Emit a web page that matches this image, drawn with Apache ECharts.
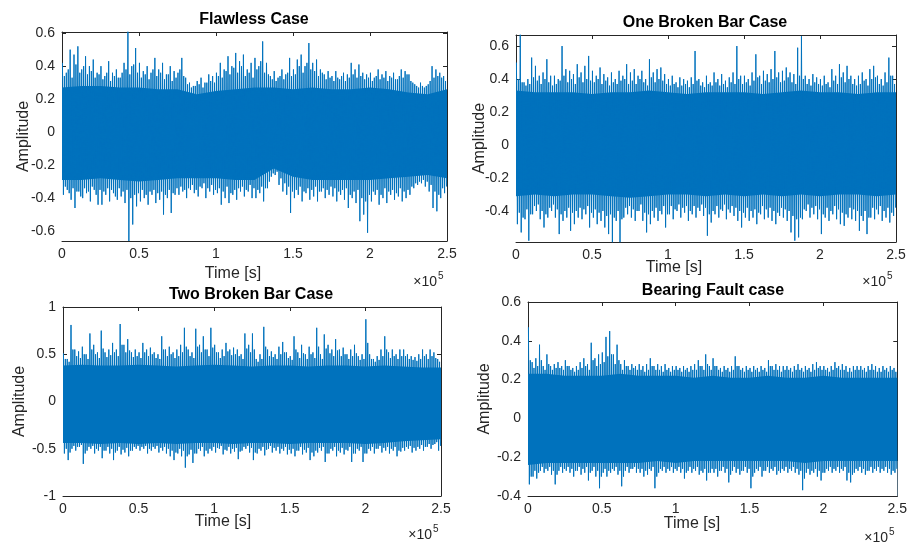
<!DOCTYPE html>
<html><head><meta charset="utf-8">
<script src="https://cdn.jsdelivr.net/npm/echarts@6/dist/echarts.min.js"></script>
<style>html,body{margin:0;padding:0;background:#fff}#c{width:910px;height:542px}</style>
</head><body><div id="c"></div>
<script>
// ---------------- DATA ----------------
const titles = ['Flawless Case', 'One Broken Bar Case', 'Two Broken Bar Case', 'Bearing Fault case'];
const xLabel = 'Time [s]';
const yLabel = 'Amplitude';
const xTicks = [0, 50000, 100000, 150000, 200000, 250000];
const yTicks1 = [-0.6, -0.4, -0.2, 0, 0.2, 0.4, 0.6];
const yTicks2 = [-0.4, -0.2, 0, 0.2, 0.4, 0.6];
const yTicks3 = [-1, -0.5, 0, 0.5, 1];
const yTicks4 = [-0.4, -0.2, 0, 0.2, 0.4, 0.6];
const binWidth = 2500;   // samples per envelope bin (100 bins over 2.5e5 samples)
const coreStep = 12500;  // samples between core-band points

// Flawless case: largest peaks per bin, secondary (fringe) peaks per bin, dense core band
const flawlessHi = [0.42,0.36,0.50,0.47,0.52,0.38,0.46,0.40,0.44,0.36,
  0.40,0.34,0.43,0.36,0.38,0.33,0.42,0.61,0.40,0.51,
  0.42,0.37,0.40,0.36,0.45,0.38,0.42,0.35,0.40,0.37,
  0.36,0.45,0.33,0.30,0.28,0.31,0.33,0.30,0.35,0.34,
  0.36,0.42,0.38,0.46,0.40,0.48,0.43,0.47,0.38,0.42,
  0.45,0.40,0.55,0.42,0.34,0.37,0.33,0.38,0.35,0.45,
  0.38,0.44,0.47,0.40,0.54,0.42,0.44,0.38,0.35,0.37,
  0.34,0.37,0.32,0.36,0.35,0.42,0.38,0.41,0.36,0.35,
  0.36,0.33,0.38,0.35,0.37,0.34,0.36,0.32,0.38,0.37,
  0.35,0.30,0.28,0.30,0.27,0.29,0.40,0.38,0.36,0.34];
const flawlessLo = [-0.38,-0.35,-0.41,-0.46,-0.36,-0.40,-0.37,-0.42,-0.35,-0.44,
  -0.44,-0.38,-0.42,-0.37,-0.41,-0.39,-0.43,-0.66,-0.56,-0.45,
  -0.42,-0.40,-0.44,-0.38,-0.43,-0.41,-0.50,-0.40,-0.49,-0.38,
  -0.38,-0.36,-0.40,-0.35,-0.37,-0.39,-0.34,-0.40,-0.36,-0.38,
  -0.37,-0.44,-0.40,-0.43,-0.38,-0.41,-0.36,-0.39,-0.36,-0.40,
  -0.40,-0.37,-0.42,-0.34,-0.27,-0.26,-0.32,-0.36,-0.38,-0.49,
  -0.40,-0.38,-0.42,-0.37,-0.41,-0.39,-0.42,-0.36,-0.40,-0.38,
  -0.39,-0.42,-0.38,-0.41,-0.46,-0.40,-0.43,-0.54,-0.50,-0.61,
  -0.42,-0.38,-0.44,-0.40,-0.43,-0.38,-0.41,-0.39,-0.42,-0.40,
  -0.38,-0.34,-0.32,-0.31,-0.33,-0.36,-0.46,-0.48,-0.40,-0.37];
const flawlessMidHi = [0.34,0.38,0.33,0.41,0.36,0.40,0.35,0.37,0.33,0.35,
  0.32,0.36,0.31,0.34,0.33,0.36,0.38,0.35,0.41,0.36,
  0.33,0.35,0.32,0.38,0.34,0.36,0.32,0.35,0.31,0.33,
  0.38,0.34,0.29,0.27,0.28,0.29,0.27,0.30,0.31,0.30,
  0.34,0.33,0.37,0.35,0.39,0.36,0.40,0.34,0.36,0.33,
  0.38,0.43,0.36,0.35,0.32,0.31,0.34,0.32,0.36,0.34,
  0.35,0.40,0.36,0.42,0.38,0.37,0.34,0.36,0.32,0.33,
  0.31,0.33,0.34,0.31,0.33,0.35,0.33,0.34,0.32,0.33,
  0.31,0.34,0.32,0.33,0.31,0.33,0.32,0.34,0.33,0.35,
  0.31,0.29,0.27,0.28,0.28,0.31,0.33,0.34,0.33,0.31];
const flawlessMidLo = [-0.33,-0.37,-0.34,-0.36,-0.39,-0.34,-0.36,-0.33,-0.38,-0.35,
  -0.36,-0.34,-0.35,-0.39,-0.34,-0.36,-0.35,-0.40,-0.38,-0.37,
  -0.35,-0.38,-0.36,-0.35,-0.37,-0.36,-0.38,-0.35,-0.37,-0.34,
  -0.33,-0.35,-0.34,-0.32,-0.35,-0.33,-0.31,-0.34,-0.32,-0.35,
  -0.34,-0.36,-0.33,-0.37,-0.35,-0.34,-0.33,-0.35,-0.32,-0.34,
  -0.35,-0.33,-0.34,-0.30,-0.25,-0.24,-0.28,-0.31,-0.33,-0.36,
  -0.35,-0.33,-0.36,-0.34,-0.35,-0.33,-0.36,-0.34,-0.35,-0.33,
  -0.34,-0.36,-0.35,-0.34,-0.38,-0.36,-0.35,-0.40,-0.42,-0.38,
  -0.36,-0.35,-0.38,-0.34,-0.36,-0.35,-0.37,-0.34,-0.36,-0.35,
  -0.33,-0.31,-0.30,-0.29,-0.30,-0.32,-0.36,-0.38,-0.34,-0.33];
const flawlessCoreHi = [0.27,0.28,0.28,0.27,0.27,0.26,0.26,0.23,0.25,0.26,0.27,0.27,0.26,0.27,0.26,0.26,0.27,0.26,0.24,0.23,0.26];
const flawlessCoreLo = [-0.29,-0.29,-0.28,-0.29,-0.30,-0.29,-0.28,-0.28,-0.28,-0.29,-0.29,-0.22,-0.27,-0.29,-0.29,-0.29,-0.29,-0.28,-0.27,-0.26,-0.28];

// One broken bar case
const oneBarHi = [0.50,0.67,0.38,0.40,0.53,0.48,0.42,0.44,0.52,0.42,
  0.42,0.40,0.60,0.46,0.45,0.43,0.49,0.44,0.48,0.54,
  0.45,0.42,0.47,0.43,0.41,0.44,0.40,0.45,0.42,0.49,
  0.44,0.46,0.42,0.45,0.40,0.52,0.44,0.46,0.47,0.43,
  0.40,0.42,0.38,0.41,0.40,0.39,0.41,0.57,0.40,0.38,
  0.42,0.38,0.44,0.40,0.43,0.39,0.41,0.44,0.60,0.42,
  0.42,0.40,0.44,0.55,0.42,0.45,0.43,0.46,0.57,0.44,
  0.45,0.47,0.44,0.43,0.59,0.66,0.42,0.40,0.43,0.41,
  0.40,0.42,0.38,0.46,0.42,0.49,0.44,0.48,0.42,0.40,
  0.42,0.44,0.40,0.46,0.48,0.42,0.40,0.44,0.53,0.42];
const oneBarLo = [-0.48,-0.53,-0.45,-0.58,-0.42,-0.40,-0.45,-0.50,-0.44,-0.40,
  -0.44,-0.54,-0.46,-0.44,-0.52,-0.48,-0.44,-0.45,-0.42,-0.50,
  -0.44,-0.48,-0.46,-0.50,-0.54,-0.59,-0.46,-0.59,-0.44,-0.42,
  -0.44,-0.46,-0.40,-0.46,-0.53,-0.48,-0.44,-0.46,-0.42,-0.50,
  -0.42,-0.45,-0.40,-0.44,-0.41,-0.46,-0.42,-0.44,-0.40,-0.43,
  -0.55,-0.47,-0.42,-0.44,-0.40,-0.45,-0.41,-0.43,-0.46,-0.50,
  -0.44,-0.46,-0.44,-0.48,-0.42,-0.45,-0.44,-0.46,-0.48,-0.43,
  -0.44,-0.46,-0.53,-0.58,-0.56,-0.45,-0.40,-0.44,-0.42,-0.45,
  -0.54,-0.44,-0.46,-0.42,-0.45,-0.48,-0.49,-0.44,-0.45,-0.46,
  -0.52,-0.46,-0.54,-0.44,-0.45,-0.42,-0.46,-0.44,-0.47,-0.43];
const oneBarMidHi = [0.40,0.38,0.36,0.37,0.41,0.39,0.37,0.40,0.38,0.36,
  0.37,0.39,0.42,0.38,0.40,0.37,0.41,0.38,0.40,0.39,
  0.38,0.40,0.37,0.39,0.36,0.38,0.37,0.39,0.40,0.37,
  0.39,0.37,0.40,0.38,0.36,0.41,0.38,0.40,0.39,0.37,
  0.36,0.37,0.35,0.36,0.37,0.35,0.37,0.39,0.36,0.35,
  0.37,0.36,0.38,0.36,0.37,0.35,0.38,0.37,0.40,0.37,
  0.38,0.36,0.39,0.41,0.37,0.39,0.38,0.40,0.41,0.38,
  0.39,0.41,0.38,0.37,0.42,0.40,0.37,0.36,0.38,0.37,
  0.36,0.37,0.35,0.39,0.37,0.41,0.38,0.40,0.37,0.36,
  0.37,0.39,0.36,0.40,0.41,0.37,0.36,0.38,0.42,0.37];
const oneBarMidLo = [-0.41,-0.44,-0.39,-0.42,-0.37,-0.36,-0.40,-0.42,-0.38,-0.36,
  -0.39,-0.42,-0.40,-0.38,-0.41,-0.40,-0.38,-0.39,-0.37,-0.41,
  -0.39,-0.41,-0.40,-0.43,-0.42,-0.44,-0.40,-0.45,-0.38,-0.37,
  -0.39,-0.40,-0.36,-0.41,-0.42,-0.40,-0.38,-0.40,-0.37,-0.42,
  -0.37,-0.39,-0.36,-0.38,-0.37,-0.40,-0.37,-0.38,-0.36,-0.38,
  -0.42,-0.40,-0.37,-0.39,-0.36,-0.39,-0.37,-0.38,-0.40,-0.41,
  -0.38,-0.40,-0.39,-0.41,-0.37,-0.39,-0.38,-0.40,-0.41,-0.38,
  -0.39,-0.40,-0.43,-0.45,-0.44,-0.39,-0.36,-0.38,-0.37,-0.39,
  -0.42,-0.38,-0.40,-0.37,-0.39,-0.41,-0.42,-0.38,-0.39,-0.40,
  -0.43,-0.40,-0.44,-0.38,-0.39,-0.37,-0.40,-0.38,-0.41,-0.38];
const oneBarCoreHi = [0.33,0.32,0.32,0.32,0.31,0.32,0.32,0.33,0.32,0.31,0.32,0.32,0.32,0.31,0.32,0.33,0.32,0.32,0.31,0.32,0.32];
const oneBarCoreLo = [-0.31,-0.30,-0.31,-0.30,-0.30,-0.31,-0.32,-0.31,-0.30,-0.30,-0.31,-0.30,-0.31,-0.30,-0.31,-0.30,-0.31,-0.30,-0.30,-0.31,-0.30];

// Two broken bar case
const twoBarHi = [0.51,0.45,0.81,0.55,0.53,0.58,0.50,0.72,0.60,0.52,
  0.75,0.52,0.55,0.62,0.55,0.82,0.60,0.66,0.52,0.55,
  0.52,0.62,0.55,0.57,0.52,0.50,0.69,0.55,0.58,0.52,
  0.55,0.60,0.78,0.55,0.52,0.77,0.60,0.69,0.55,0.78,
  0.60,0.52,0.55,0.62,0.55,0.57,0.55,0.50,0.72,0.60,
  0.72,0.45,0.50,0.79,0.55,0.53,0.50,0.58,0.63,0.52,
  0.48,0.69,0.52,0.60,0.50,0.58,0.52,0.78,0.50,0.71,
  0.60,0.55,0.66,0.55,0.57,0.50,0.55,0.60,0.48,0.50,
  0.87,0.50,0.45,0.48,0.55,0.69,0.52,0.55,0.50,0.55,
  0.55,0.50,0.48,0.47,0.50,0.55,0.50,0.55,0.52,0.45];
const twoBarLo = [-0.55,-0.62,-0.50,-0.52,-0.48,-0.66,-0.52,-0.50,-0.55,-0.52,
  -0.60,-0.52,-0.55,-0.62,-0.52,-0.56,-0.54,-0.58,-0.52,-0.50,
  -0.52,-0.50,-0.55,-0.52,-0.50,-0.54,-0.52,-0.55,-0.58,-0.62,
  -0.55,-0.58,-0.70,-0.56,-0.65,-0.55,-0.52,-0.58,-0.55,-0.52,
  -0.54,-0.50,-0.56,-0.52,-0.55,-0.53,-0.61,-0.52,-0.50,-0.54,
  -0.62,-0.55,-0.52,-0.57,-0.50,-0.54,-0.52,-0.55,-0.52,-0.56,
  -0.55,-0.58,-0.52,-0.56,-0.54,-0.62,-0.58,-0.54,-0.52,-0.64,
  -0.55,-0.52,-0.58,-0.54,-0.56,-0.52,-0.64,-0.55,-0.52,-0.64,
  -0.55,-0.52,-0.55,-0.50,-0.54,-0.52,-0.55,-0.52,-0.58,-0.53,
  -0.52,-0.50,-0.54,-0.52,-0.50,-0.52,-0.48,-0.50,-0.45,-0.52];
const twoBarMidHi = [0.45,0.42,0.55,0.48,0.46,0.50,0.45,0.55,0.50,0.46,
  0.56,0.47,0.49,0.52,0.48,0.60,0.52,0.54,0.47,0.48,
  0.46,0.52,0.48,0.50,0.46,0.45,0.55,0.48,0.50,0.46,
  0.48,0.52,0.58,0.48,0.46,0.58,0.52,0.55,0.48,0.57,
  0.52,0.46,0.48,0.53,0.49,0.50,0.48,0.45,0.56,0.52,
  0.55,0.42,0.45,0.58,0.48,0.47,0.45,0.50,0.52,0.46,
  0.44,0.55,0.46,0.51,0.45,0.50,0.46,0.58,0.45,0.56,
  0.51,0.48,0.54,0.48,0.50,0.45,0.48,0.51,0.44,0.45,
  0.62,0.45,0.42,0.44,0.48,0.55,0.46,0.48,0.45,0.48,
  0.48,0.45,0.44,0.43,0.45,0.48,0.45,0.48,0.46,0.42];
const twoBarMidLo = [-0.50,-0.54,-0.47,-0.48,-0.46,-0.55,-0.48,-0.47,-0.50,-0.48,
  -0.52,-0.48,-0.50,-0.54,-0.48,-0.51,-0.49,-0.52,-0.48,-0.47,
  -0.48,-0.47,-0.50,-0.48,-0.47,-0.49,-0.48,-0.50,-0.52,-0.54,
  -0.50,-0.52,-0.58,-0.51,-0.55,-0.50,-0.48,-0.52,-0.50,-0.48,
  -0.49,-0.47,-0.51,-0.48,-0.50,-0.49,-0.53,-0.48,-0.47,-0.49,
  -0.54,-0.50,-0.48,-0.51,-0.47,-0.49,-0.48,-0.50,-0.48,-0.51,
  -0.50,-0.52,-0.48,-0.51,-0.49,-0.54,-0.52,-0.49,-0.48,-0.55,
  -0.50,-0.48,-0.52,-0.49,-0.51,-0.48,-0.55,-0.50,-0.48,-0.55,
  -0.50,-0.48,-0.50,-0.47,-0.49,-0.48,-0.50,-0.48,-0.52,-0.49,
  -0.48,-0.47,-0.49,-0.48,-0.46,-0.48,-0.45,-0.46,-0.43,-0.47];
const twoBarCoreHi = [0.38,0.39,0.38,0.38,0.39,0.38,0.37,0.38,0.39,0.38,0.37,0.38,0.38,0.37,0.38,0.38,0.37,0.38,0.37,0.36,0.36];
const twoBarCoreLo = [-0.44,-0.44,-0.45,-0.44,-0.45,-0.44,-0.45,-0.44,-0.44,-0.45,-0.44,-0.44,-0.45,-0.44,-0.44,-0.44,-0.45,-0.44,-0.42,-0.41,-0.40];

// Bearing fault case
const bearingHi = [0.47,0.29,0.31,0.38,0.27,0.33,0.27,0.28,0.29,0.27,
  0.30,0.27,0.26,0.27,0.29,0.31,0.28,0.39,0.31,0.33,
  0.34,0.42,0.45,0.33,0.38,0.28,0.30,0.27,0.28,0.27,
  0.28,0.27,0.28,0.31,0.27,0.28,0.27,0.28,0.26,0.27,
  0.27,0.26,0.27,0.26,0.27,0.28,0.30,0.27,0.33,0.27,
  0.31,0.27,0.26,0.27,0.26,0.27,0.32,0.27,0.26,0.27,
  0.26,0.27,0.26,0.27,0.26,0.30,0.27,0.28,0.27,0.27,
  0.27,0.26,0.27,0.28,0.26,0.27,0.26,0.28,0.29,0.27,
  0.27,0.26,0.27,0.29,0.27,0.28,0.27,0.26,0.27,0.27,
  0.27,0.26,0.27,0.28,0.27,0.26,0.27,0.26,0.27,0.26];
const bearingLo = [-0.34,-0.30,-0.31,-0.27,-0.28,-0.27,-0.29,-0.34,-0.27,-0.28,
  -0.27,-0.28,-0.30,-0.27,-0.29,-0.28,-0.32,-0.27,-0.30,-0.36,
  -0.28,-0.30,-0.28,-0.27,-0.29,-0.35,-0.27,-0.28,-0.26,-0.28,
  -0.28,-0.30,-0.29,-0.27,-0.36,-0.28,-0.27,-0.28,-0.27,-0.28,
  -0.27,-0.28,-0.31,-0.27,-0.28,-0.27,-0.29,-0.28,-0.32,-0.28,
  -0.28,-0.30,-0.27,-0.28,-0.33,-0.27,-0.28,-0.29,-0.27,-0.28,
  -0.36,-0.28,-0.27,-0.30,-0.27,-0.28,-0.27,-0.29,-0.28,-0.27,
  -0.28,-0.27,-0.28,-0.29,-0.37,-0.28,-0.29,-0.28,-0.30,-0.32,
  -0.28,-0.27,-0.28,-0.27,-0.28,-0.27,-0.32,-0.33,-0.28,-0.27,
  -0.28,-0.29,-0.27,-0.28,-0.27,-0.28,-0.27,-0.28,-0.29,-0.28];
const bearingMidHi = [0.30,0.26,0.27,0.30,0.25,0.28,0.25,0.26,0.26,0.25,
  0.27,0.25,0.24,0.25,0.26,0.27,0.25,0.30,0.27,0.28,
  0.29,0.32,0.33,0.28,0.30,0.25,0.27,0.25,0.26,0.25,
  0.25,0.24,0.25,0.27,0.25,0.25,0.24,0.25,0.24,0.25,
  0.25,0.24,0.25,0.24,0.25,0.25,0.27,0.25,0.28,0.25,
  0.27,0.25,0.24,0.25,0.24,0.25,0.27,0.25,0.24,0.25,
  0.24,0.25,0.24,0.25,0.24,0.27,0.25,0.25,0.24,0.25,
  0.25,0.24,0.25,0.25,0.24,0.25,0.24,0.25,0.26,0.25,
  0.25,0.24,0.25,0.26,0.25,0.25,0.24,0.24,0.25,0.25,
  0.25,0.24,0.25,0.25,0.24,0.24,0.25,0.24,0.25,0.24];
const bearingMidLo = [-0.30,-0.27,-0.28,-0.25,-0.26,-0.25,-0.27,-0.29,-0.25,-0.26,
  -0.25,-0.26,-0.27,-0.25,-0.26,-0.25,-0.28,-0.25,-0.27,-0.30,
  -0.26,-0.27,-0.26,-0.25,-0.27,-0.30,-0.25,-0.26,-0.25,-0.26,
  -0.26,-0.27,-0.26,-0.25,-0.30,-0.26,-0.25,-0.26,-0.25,-0.26,
  -0.25,-0.26,-0.28,-0.25,-0.26,-0.25,-0.27,-0.26,-0.28,-0.26,
  -0.26,-0.27,-0.25,-0.26,-0.29,-0.25,-0.26,-0.27,-0.25,-0.26,
  -0.30,-0.26,-0.25,-0.27,-0.25,-0.26,-0.25,-0.27,-0.26,-0.25,
  -0.26,-0.25,-0.26,-0.27,-0.31,-0.26,-0.27,-0.26,-0.27,-0.28,
  -0.26,-0.25,-0.26,-0.25,-0.26,-0.25,-0.28,-0.29,-0.26,-0.25,
  -0.26,-0.27,-0.25,-0.26,-0.25,-0.26,-0.25,-0.26,-0.27,-0.26];
const bearingCoreHi = [0.23,0.23,0.22,0.22,0.22,0.23,0.22,0.22,0.22,0.21,0.22,0.21,0.21,0.22,0.21,0.21,0.22,0.21,0.21,0.21,0.21];
const bearingCoreLo = [-0.24,-0.23,-0.23,-0.23,-0.23,-0.23,-0.23,-0.22,-0.23,-0.22,-0.22,-0.22,-0.22,-0.22,-0.22,-0.23,-0.22,-0.22,-0.22,-0.22,-0.22];

// ---------------- LAYOUT / STYLE ----------------
const FONT = '"Liberation Sans", Arial, Helvetica, sans-serif';
const AX = '#262626';
const BLUE = '#0072BD';
const panels = [
  {hi: flawlessHi, lo: flawlessLo, mh: flawlessMidHi, ml: flawlessMidLo, cHi: flawlessCoreHi, cLo: flawlessCoreLo,
   yTicks: yTicks1, yMin: -0.66, yMax: 0.607,
   grid: {left: 62, top: 32, width: 385, height: 209}, nameGap: 30, title: [254, 20], xl: [233, 274], ex: [437, 282.5]},
  {hi: oneBarHi, lo: oneBarLo, mh: oneBarMidHi, ml: oneBarMidLo, cHi: oneBarCoreHi, cLo: oneBarCoreLo,
   yTicks: yTicks2, yMin: -0.588, yMax: 0.667,
   grid: {left: 516, top: 35, width: 380, height: 207}, nameGap: 28, title: [705, 23], xl: [674, 268], ex: [886, 282.5]},
  {hi: twoBarHi, lo: twoBarLo, mh: twoBarMidHi, ml: twoBarMidLo, cHi: twoBarCoreHi, cLo: twoBarCoreLo,
   yTicks: yTicks3, yMin: -1, yMax: 1,
   grid: {left: 63, top: 307, width: 378, height: 189}, nameGap: 35, title: [251, 295], xl: [223, 522], ex: [432, 535.5]},
  {hi: bearingHi, lo: bearingLo, mh: bearingMidHi, ml: bearingMidLo, cHi: bearingCoreHi, cLo: bearingCoreLo,
   yTicks: yTicks4, yMin: -0.4, yMax: 0.6,
   grid: {left: 528, top: 302, width: 370, height: 194}, nameGap: 35, title: [713, 291], xl: [692, 524], ex: [888, 538]}
];

const fmtX = v => String(Math.round(v / 1e4) / 10);
const grids = [], xAxes = [], yAxes = [], series = [], graphics = [];

panels.forEach((p, g) => {
  grids.push(Object.assign({containLabel: false}, p.grid));
  const xBase = {type: 'value', gridIndex: g, min: 0, max: 250000, interval: 50000,
    axisLine: {show: true, onZero: false, lineStyle: {color: AX, width: 1}},
    axisTick: {show: true, inside: true, length: 4, customValues: xTicks, lineStyle: {color: AX}},
    splitLine: {show: false}};
  xAxes.push(Object.assign({}, xBase, {position: 'bottom',
    axisLabel: {color: AX, fontSize: 14, fontFamily: FONT, margin: 6, customValues: xTicks, formatter: fmtX}}));
  xAxes.push(Object.assign({}, xBase, {position: 'top', axisLabel: {show: false}}));
  const yBase = {type: 'value', gridIndex: g, min: p.yMin, max: p.yMax,
    axisLine: {show: true, onZero: false, lineStyle: {color: AX, width: 1}},
    axisTick: {show: true, inside: true, length: 4, customValues: p.yTicks, lineStyle: {color: AX}},
    splitLine: {show: false}};
  yAxes.push(Object.assign({}, yBase, {position: 'left', name: yLabel, nameLocation: 'middle', nameGap: p.nameGap,
    nameMoveOverlap: false,
    nameTextStyle: {color: AX, fontSize: 16, fontFamily: FONT},
    axisLabel: {color: AX, fontSize: 14, fontFamily: FONT, margin: 7, customValues: p.yTicks, formatter: v => String(v)}}));
  yAxes.push(Object.assign({}, yBase, {position: 'right', axisLabel: {show: false}}));

  const xi = g * 2, yi = g * 2;
  // dense core: blue from bottom up to core top, then white from bottom up to core bottom
  const coreUp = p.cHi.map((v, k) => [k * coreStep, v]);
  const coreDn = p.cLo.map((v, k) => [k * coreStep, v]);
  series.push({type: 'line', xAxisIndex: xi, yAxisIndex: yi, data: coreUp, showSymbol: false, silent: true,
    lineStyle: {width: 0, opacity: 0}, areaStyle: {color: BLUE, opacity: 1, origin: 'start'}});
  series.push({type: 'line', xAxisIndex: xi, yAxisIndex: yi, data: coreDn, showSymbol: false, silent: true,
    lineStyle: {width: 0, opacity: 0}, areaStyle: {color: '#fff', opacity: 1, origin: 'start'}});
  // signal swing: main peaks and secondary peaks in each bin
  const zig = [];
  p.hi.forEach((h, i) => {
    const b = i * binWidth;
    zig.push([b + binWidth * 0.12, h]);
    zig.push([b + binWidth * 0.37, p.lo[i]]);
    zig.push([b + binWidth * 0.62, p.mh[i]]);
    zig.push([b + binWidth * 0.87, p.ml[i]]);
  });
  series.push({type: 'line', xAxisIndex: xi, yAxisIndex: yi, data: zig, showSymbol: false, silent: true,
    lineStyle: {color: BLUE, width: 1}});

  graphics.push({type: 'text', x: p.title[0], y: p.title[1], style: {text: titles[g], fill: '#000',
    font: 'bold 16px ' + FONT, textAlign: 'center', textVerticalAlign: 'middle'}});
  graphics.push({type: 'text', x: p.xl[0], y: p.xl[1], style: {text: xLabel, fill: AX,
    font: '16px ' + FONT, textAlign: 'center', textVerticalAlign: 'middle'}});
  graphics.push({type: 'text', x: p.ex[0], y: p.ex[1], style: {text: '\u00d710', fill: AX,
    font: '14px ' + FONT, textAlign: 'right', textVerticalAlign: 'middle'}});
  graphics.push({type: 'text', x: p.ex[0] + 1, y: p.ex[1] - 6, style: {text: '5', fill: AX,
    font: '10px ' + FONT, textAlign: 'left', textVerticalAlign: 'middle'}});
});

const chart = echarts.init(document.getElementById('c'), null, {renderer: 'canvas'});
chart.setOption({animation: false, backgroundColor: '#fff', grid: grids, xAxis: xAxes, yAxis: yAxes,
  series: series, graphic: graphics});
</script></body></html>
